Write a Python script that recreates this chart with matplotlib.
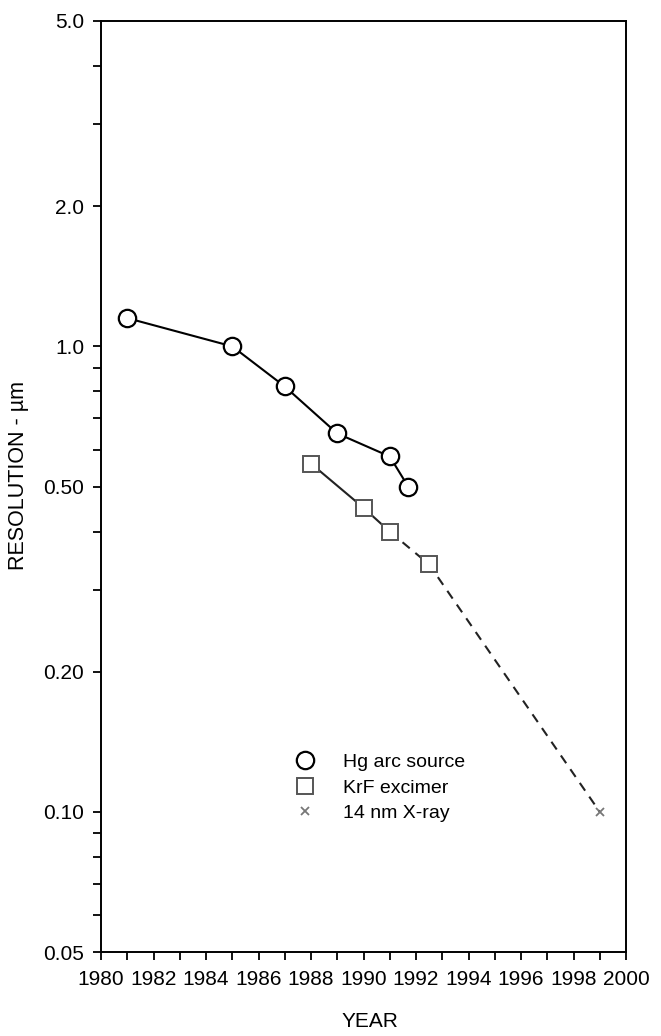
import matplotlib
matplotlib.use("Agg")
import matplotlib.pyplot as plt
from matplotlib.ticker import FixedLocator, NullFormatter

plt.rcParams['font.family'] = ['Liberation Sans', 'DejaVu Sans']

# Hg arc source
hg_year = [1981, 1985, 1987, 1989, 1991, 1991.7]
hg_res = [1.15, 1.0, 0.82, 0.65, 0.58, 0.50]

# KrF excimer
krf_year = [1988, 1990, 1991, 1992.5]
krf_res = [0.56, 0.45, 0.40, 0.34]

# 14 nm X-ray
xray_year = [1999]
xray_res = [0.10]

y_major = [0.05, 0.10, 0.20, 0.50, 1.0, 2.0, 5.0]
y_labels = ["0.05", "0.10", "0.20", "0.50", "1.0", "2.0", "5.0"]
y_minor = [0.06, 0.07, 0.08, 0.09, 0.3, 0.4, 0.6, 0.7, 0.8, 0.9, 3, 4]
x_major = list(range(1980, 2001, 2))
x_minor = list(range(1981, 2000, 2))

fig = plt.figure(figsize=(6.61, 10.36), dpi=100)
ax = fig.add_axes([101/661, 1 - 952/1036, 525/661, 931/1036])

ax.set_yscale('log')
ax.set_xlim(1980, 2000)
ax.set_ylim(0.05, 5.0)

# solid lines
ax.plot(hg_year, hg_res, color='black', lw=1.5, zorder=2)
ax.plot(krf_year[:3], krf_res[:3], color='#222222', lw=1.5, zorder=2)
# dashed extrapolation
ax.plot([krf_year[2], krf_year[3], xray_year[0]], [krf_res[2], krf_res[3], xray_res[0]],
        color='#222222', lw=1.5, ls=(0, (4.5, 3.5)), zorder=2)

ax.plot(hg_year, hg_res, ls='none', marker='o', ms=12.5, mfc='white', mec='black',
        mew=1.6, zorder=3, label='Hg arc source')
ax.plot(krf_year, krf_res, ls='none', marker='s', ms=11.5, mfc='white', mec='#555555',
        mew=1.4, zorder=3, label='KrF excimer')
ax.plot(xray_year, xray_res, ls='none', marker='x', ms=5.5, mec='#777777',
        mew=1.3, zorder=3, label='14 nm X-ray')

ax.yaxis.set_major_locator(FixedLocator(y_major))
ax.set_yticklabels(y_labels)
ax.yaxis.set_minor_locator(FixedLocator(y_minor))
ax.yaxis.set_minor_formatter(NullFormatter())
ax.set_xticks(x_major)
ax.set_xticks(x_minor, minor=True)

ax.tick_params(axis='both', which='major', direction='out', length=6, width=1.3,
               labelsize=15)
ax.tick_params(axis='x', which='major', pad=7)
ax.tick_params(axis='y', which='major', pad=6)
ax.tick_params(axis='both', which='minor', direction='out', length=6, width=1.3)
for s in ax.spines.values():
    s.set_linewidth(1.4)

ax.set_xlabel('YEAR', fontsize=15)
ax.set_ylabel('RESOLUTION - µm', fontsize=15.5)
ax.xaxis.set_label_coords(0.512, -0.064)
ax.yaxis.set_label_coords(-0.137, 0.512)

ax.legend(loc='upper left', bbox_to_anchor=(0.328, 0.232), frameon=False, fontsize=14,
          handletextpad=1.2, labelspacing=0.4, handlelength=1.5)

fig.savefig('out.png', dpi=100)
